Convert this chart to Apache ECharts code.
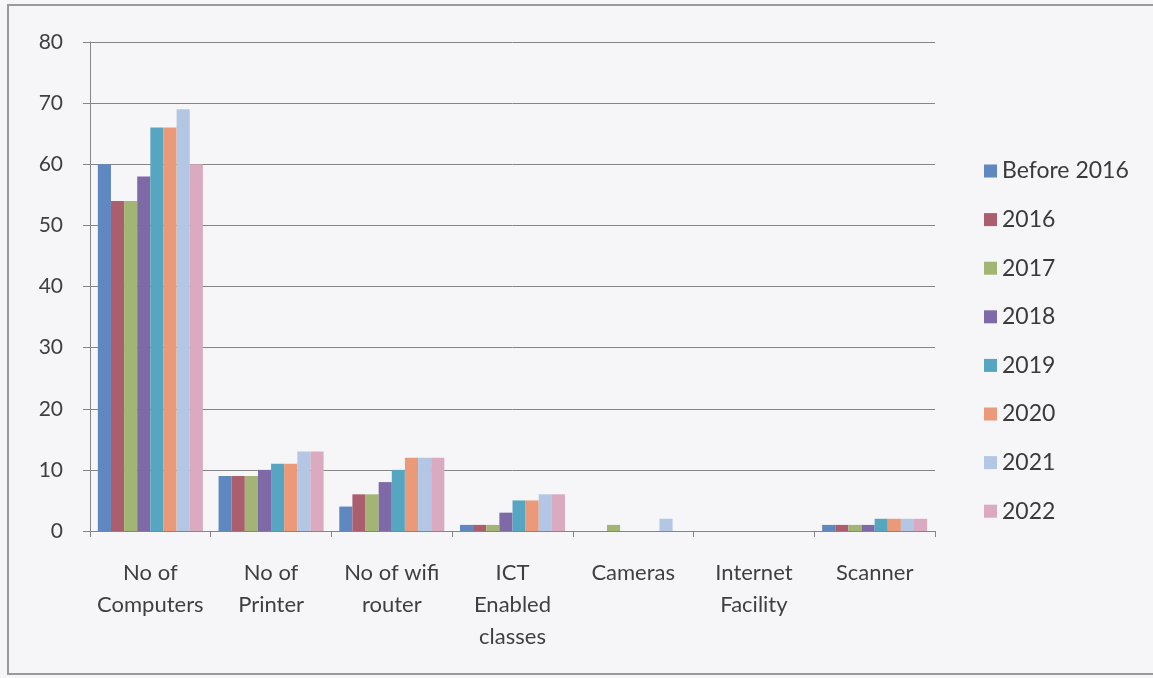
<!DOCTYPE html>
<html>
    <head>
        <meta charset="utf-8">
        <title>ICT facilities</title>
        <script src="https://cdn.jsdelivr.net/npm/echarts@6/dist/echarts.min.js"></script>
        <style type="text/css">
            *{margin: 0}
            body{background: #f6f6f9;}
        </style>
    </head>
    <body>
        <div id="main" style="width: 1153px;height:678px;"></div>
        <script type="text/javascript">
        // categories and series
        var categories = ['No of\nComputers', 'No of\nPrinter', 'No of wifi\nrouter', 'ICT\nEnabled\nclasses', 'Cameras', 'Internet\nFacility', 'Scanner'];
        var years = ['Before 2016', '2016', '2017', '2018', '2019', '2020', '2021', '2022'];
        var before2016 = [60, 9, 4, 1, 0, 0, 1];
        var y2016 = [54, 9, 6, 1, 0, 0, 1];
        var y2017 = [54, 9, 6, 1, 1, 0, 1];
        var y2018 = [58, 10, 8, 3, 0, 0, 1];
        var y2019 = [66, 11, 10, 5, 0, 0, 2];
        var y2020 = [66, 11, 12, 5, 0, 0, 2];
        var y2021 = [69, 13, 12, 6, 2, 0, 2];
        var y2022 = [60, 13, 12, 6, 0, 0, 2];
        var yTicks = [0, 10, 20, 30, 40, 50, 60, 70, 80];

        var seriesData = [before2016, y2016, y2017, y2018, y2019, y2020, y2021, y2022];
        var colors = ['#5f88c0', '#ab5e6d', '#a3b574', '#7d6aa6', '#56a6c2', '#eb9a79', '#b3c7e4', '#d9aac0'];
        var font = 'Lato, "Open Sans", sans-serif';

        var myChart = echarts.init(document.getElementById('main'));
        myChart.setOption({
            backgroundColor: '#f6f6f9',
            animation: false,
            color: colors,
            graphic: [{
                type: 'rect',
                shape: {x: 8, y: 5, width: 1160, height: 669},
                style: {fill: 'none', stroke: '#9a9a9a', lineWidth: 2},
                silent: true
            }],
            grid: {left: 90, right: 218, top: 42, bottom: 147},
            legend: {
                orient: 'vertical',
                left: 979,
                top: 154,
                itemWidth: 13,
                itemHeight: 13,
                itemGap: 24.6,
                icon: 'rect',
                data: years,
                textStyle: {fontSize: 23, lineHeight: 24, color: '#3a3a3a', fontFamily: font}
            },
            xAxis: {
                type: 'category',
                data: categories,
                axisLine: {lineStyle: {color: '#858585'}},
                axisTick: {show: true, length: 6, lineStyle: {color: '#858585'}},
                axisLabel: {
                    interval: 0,
                    margin: 26,
                    fontSize: 22,
                    lineHeight: 32,
                    color: '#3f3f3f',
                    fontFamily: font
                }
            },
            yAxis: {
                type: 'value',
                min: yTicks[0],
                max: yTicks[yTicks.length - 1],
                interval: 10,
                axisLine: {show: true, lineStyle: {color: '#858585'}},
                axisTick: {show: true, length: 7, lineStyle: {color: '#858585'}},
                splitLine: {lineStyle: {color: '#858585'}},
                axisLabel: {margin: 27, fontSize: 21, color: '#3f3f3f', fontFamily: font}
            },
            series: years.map(function (name, i) {
                return {
                    name: name,
                    type: 'bar',
                    data: seriesData[i],
                    barGap: '0%',
                    barCategoryGap: '13%'
                };
            })
        });
        </script>
    </body>
</html>
